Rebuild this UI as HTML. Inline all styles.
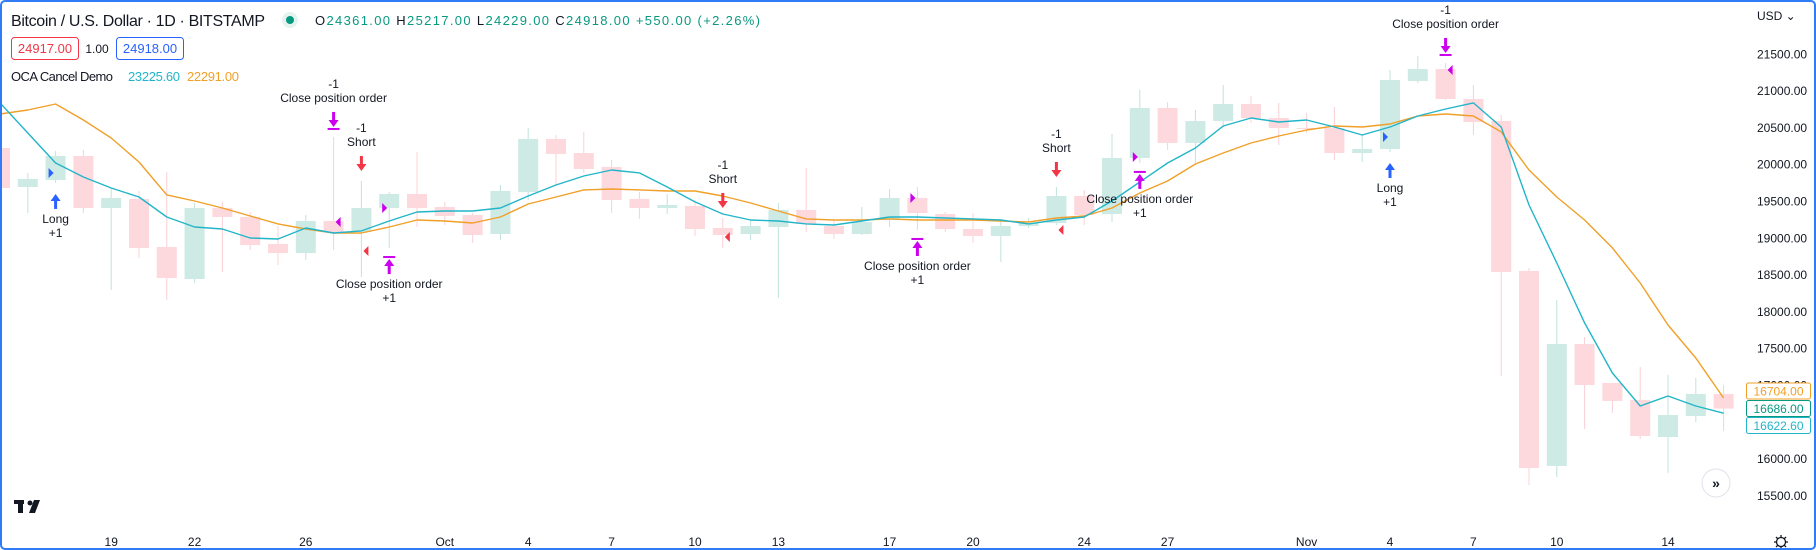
<!DOCTYPE html>
<html><head><meta charset="utf-8"><style>
html,body{margin:0;padding:0;background:#fff;}
#wrap{position:relative;width:1816px;height:550px;overflow:hidden;background:#fff;}
#frame{position:absolute;left:0;top:0;width:1812px;height:546px;border:2px solid #2f7cf6;border-radius:5px;pointer-events:none;}
svg{position:absolute;left:0;top:0;font-family:"Liberation Sans",sans-serif;}
</style></head><body>
<div id="wrap">
<svg id="chart" width="1816" height="550">
  <g id="candles"></g>
  <g id="lines"></g>
  <g id="markers"></g>
  <g id="yaxis"></g>
  <g id="xaxis"></g>
  <g>
    <text x="11" y="26" font-size="16" fill="#131722" textLength="254">Bitcoin / U.S. Dollar · 1D · BITSTAMP</text>
    <circle cx="290" cy="20" r="8" fill="#e3f3ef"/>
    <circle cx="290" cy="20" r="4" fill="#089981"/>
    <text x="315" y="25" font-size="13" fill="#089981" textLength="445"><tspan fill="#131722">O</tspan>24361.00 <tspan fill="#131722">H</tspan>25217.00 <tspan fill="#131722">L</tspan>24229.00 <tspan fill="#131722">C</tspan>24918.00 +550.00 (+2.26%)</text>
    <rect x="11.5" y="37.5" width="67" height="22" rx="3" fill="#fff" stroke="#f23645"/>
    <text x="45" y="53" font-size="13" fill="#f23645" text-anchor="middle">24917.00</text>
    <text x="97" y="53" font-size="12" fill="#131722" text-anchor="middle">1.00</text>
    <rect x="116.5" y="37.5" width="67" height="22" rx="3" fill="#fff" stroke="#2962ff"/>
    <text x="150" y="53" font-size="13" fill="#2962ff" text-anchor="middle">24918.00</text>
    <text x="11" y="81" font-size="13" fill="#131722" textLength="102">OCA Cancel Demo</text>
    <text x="128" y="81" font-size="13" fill="#22b5c9" textLength="52">23225.60</text>
    <text x="187" y="81" font-size="13" fill="#f0a028" textLength="52">22291.00</text>
    <text x="1757" y="20" font-size="12" fill="#131722">USD ⌄</text>
  </g>
  <g>
    <rect x="14" y="500" width="10" height="4" fill="#131722"/>
    <rect x="18" y="500" width="5" height="13" fill="#131722"/>
    <circle cx="30" cy="503" r="2.5" fill="#131722"/>
    <polygon points="34,500 40,500 35,513 29,513" fill="#131722"/>
  </g>
  <g>
    <circle cx="1716" cy="483" r="14" fill="#fff" stroke="#e0e3eb"/>
    <text x="1716" y="488" font-size="14" fill="#131722" text-anchor="middle" font-weight="bold">»</text>
  </g>
  <g stroke="#131722" stroke-width="1.3" fill="none">
    <circle cx="1781" cy="542" r="4.5"/>
    <line x1="1781" y1="535" x2="1781" y2="537.5"/>
    <line x1="1781" y1="546.5" x2="1781" y2="549"/>
    <line x1="1774" y1="542" x2="1776.5" y2="542"/>
    <line x1="1785.5" y1="542" x2="1788" y2="542"/>
    <line x1="1776" y1="537" x2="1777.8" y2="538.8"/>
    <line x1="1784.2" y1="545.2" x2="1786" y2="547"/>
    <line x1="1786" y1="537" x2="1784.2" y2="538.8"/>
    <line x1="1777.8" y1="545.2" x2="1776" y2="547"/>
  </g>
</svg>
<div id="frame"></div>
</div>
<script>
const opens=[20227,19697,19792,20119,19412,19535,18882,18447,19412,19290,18923,18800,19235,19086,19412,19602,19426,19317,19059,19630,20350,20159,19969,19535,19412,19439,19140,19059,19154,19385,19167,19059,19249,19548,19330,19127,19032,19167,19208,19575,19330,20091,20771,20295,20594,20825,20635,20499,20499,20159,20214,21138,21300,20893,20594,18556,15907,17564,17034,16803,16300,16586,16885];
const highs=[20336,19888,20186,20200,19684,19643,19901,19480,19494,19358,19167,19317,20377,19779,19630,20173,19494,19344,19724,20499,20404,20445,20064,19630,19602,19521,19276,19249,19480,19955,19249,19426,19670,19697,19358,19344,19249,19276,19697,19657,20417,21015,20852,20743,21083,20934,20839,20703,20784,20404,21287,21477,21382,21083,20676,18597,18162,17659,17034,17252,17143,17102,17007];
const lows=[19589,19344,19752,19344,18298,18733,18162,18393,18542,18841,18637,18705,18841,18474,18868,19154,19181,18936,18977,19521,19724,19888,19344,19263,19330,19032,18868,18977,18189,19086,18991,19045,19154,19113,19086,18936,18678,19140,19181,19181,19222,20024,20200,20024,20513,20567,20268,20431,20064,20037,20173,21110,20879,20404,17129,15648,15757,16409,16627,16273,15812,16504,16382];
const closes=[19684,19806,20119,19412,19548,18869,18461,19412,19290,18909,18800,19235,19086,19412,19602,19412,19303,19045,19643,20350,20146,19942,19521,19412,19453,19127,19045,19167,19385,19195,19059,19222,19548,19344,19127,19032,19167,19208,19575,19317,20091,20771,20295,20594,20825,20635,20499,20485,20159,20214,21151,21300,20893,20580,18542,15879,17564,17007,16790,16314,16599,16885,16686];
const fastMA=[20839,20431,20023,19833,19684,19561,19290,19154,19127,19004,18991,19140,19072,19100,19235,19358,19371,19371,19412,19575,19724,19847,19928,19888,19697,19494,19330,19249,19235,19195,19181,19235,19290,19290,19276,19263,19249,19195,19249,19290,19507,19765,20023,20227,20526,20635,20580,20608,20512,20404,20512,20662,20757,20839,20512,19453,18665,17850,17170,16722,16858,16722,16623];
const slowMA=[20689,20743,20825,20608,20363,20037,19589,19507,19412,19303,19195,19127,19072,19072,19154,19249,19235,19208,19290,19466,19561,19657,19670,19657,19643,19643,19575,19480,19371,19263,19249,19249,19263,19249,19249,19249,19235,19222,19276,19303,19412,19616,19779,20010,20159,20295,20390,20472,20526,20512,20553,20662,20689,20662,20445,19928,19561,19249,18869,18393,17822,17374,16830];
const xTickIdx=[4,7,11,16,19,22,25,28,32,35,39,42,47,50,53,56,60];
const xTickLabels=['19','22','26','Oct','4','7','10','13','17','20','24','27','Nov','4','7','10','14'];
const yTicks=[21500,21000,20500,20000,19500,19000,18500,18000,17500,17000,16000,15500];
const sigIdx=[2,12,13,14,26,33,38,41,50,52];
const sigKind=['long','closeSell','short','closeBuy','short','closeBuy','short','closeBuy','long','closeSell'];
const fillIdx=[2,12,13,14,26,33,38,41,50,52];
const fillPrice=[19888,19222,18827,19412,19018,19548,19113,20105,20377,21287];
const fillDir=['right','left','left','right','left','right','left','right','right','left'];
const lastLabels=[16704,16686,16622.60];

const NS='http://www.w3.org/2000/svg';
const X0=0, STEP=27.8;
function xOf(i){return X0+i*STEP;}
function yOf(p){return 54.3+(21500-p)*0.0736;}
function mk(tag,attrs,parent){const e=document.createElementNS(NS,tag);for(const k in attrs)e.setAttribute(k,attrs[k]);parent.appendChild(e);return e;}

const gC=document.getElementById('candles');
for(let i=0;i<opens.length;i++){
  const up=closes[i]>=opens[i];
  const x=xOf(i);
  const wick=mk('line',{x1:x,x2:x,y1:yOf(highs[i]),y2:yOf(lows[i]),stroke:up?'#c2e4dd':'#fbd0d6','stroke-width':1},gC);
  
  
  const top=yOf(Math.max(opens[i],closes[i])), bot=yOf(Math.min(opens[i],closes[i]));
  const body=mk('rect',{x:x-10,y:top,width:20,height:Math.max(1,bot-top),fill:up?'#cdeae4':'#fdd8dd'},gC);
  
  
}
const gL=document.getElementById('lines');
function line(vals,color,name){
  const pts=vals.map((v,i)=>xOf(i).toFixed(1)+','+yOf(v).toFixed(1)).join(' ');
  const p=mk('polyline',{points:pts,fill:'none',stroke:color,'stroke-width':1.4,'stroke-linejoin':'round'},gL);
  
  
}
line(slowMA,'#f0a028','slow-ma-line');
line(fastMA,'#22b5c9','fast-ma-line');

const gM=document.getElementById('markers');
function txt(x,y,s,parent){const t=mk('text',{x:x,y:y,'font-size':12,fill:'#131722','text-anchor':'middle'},parent);t.textContent=s;return t;}
function arrow(x,yTop,len,dir,color,bar,parent){
  const g=mk('g',{},parent);
  if(dir==='down'){
    mk('rect',{x:x-1.5,y:yTop,width:3,height:len-6},g);
    mk('polygon',{points:`${x-5},${yTop+len-8} ${x+5},${yTop+len-8} ${x},${yTop+len-1}`},g);
    if(bar) mk('rect',{x:x-6,y:yTop+len,width:12,height:2},g);
  } else {
    if(bar) mk('rect',{x:x-6,y:yTop-2,width:12,height:2},g);
    mk('polygon',{points:`${x-5},${yTop+8} ${x+5},${yTop+8} ${x},${yTop+1}`},g);
    mk('rect',{x:x-1.5,y:yTop+6,width:3,height:len-6},g);
  }
  g.setAttribute('fill',color);
  return g;
}
for(let k=0;k<sigIdx.length;k++){
  const i=sigIdx[k], kind=sigKind[k], x=xOf(i);
  const g=mk('g',{},gM);
  
  
  if(kind==='long'||kind==='closeBuy'){
    const yT=yOf(lows[i])+10;
    arrow(x,yT,16,'up',kind==='long'?'#2962ff':'#cc00ee',kind==='closeBuy',g);
    txt(x,yT+30,kind==='long'?'Long':'Close position order',g);
    txt(x,yT+44,'+1',g);
  } else {
    const yB=yOf(highs[i])-9;
    arrow(x,yB-16,16,'down',kind==='short'?'#f23645':'#cc00ee',kind==='closeSell',g);
    txt(x,yB-26,kind==='short'?'Short':'Close position order',g);
    txt(x,yB-40,'-1',g);
  }
}
for(let k=0;k<fillIdx.length;k++){
  const x=xOf(fillIdx[k]), y=yOf(fillPrice[k]);
  const kind=sigKind[k];
  const col=kind==='long'?'#2962ff':kind==='short'?'#f23645':'#cc00ee';
  const pts=fillDir[k]==='right'?`${x-7},${y-5} ${x-7},${y+5} ${x-2},${y}`:`${x+7},${y-5} ${x+7},${y+5} ${x+2},${y}`;
  const t=mk('polygon',{points:pts,fill:col},gM);
  
  
}
const gY=document.getElementById('yaxis');
yTicks.forEach(v=>{
  const t=mk('text',{x:1757,y:yOf(v)+4,'font-size':12,fill:'#131722'},gY);
  t.textContent=v.toFixed(2);
  
  
});
const boxCols=['#f0a028','#089981','#22b5c9'];
const boxY=[391,408.5,425.5];
lastLabels.forEach((v,k)=>{
  const r=mk('rect',{x:1746.5,y:boxY[k]-8,width:64,height:16,rx:2,fill:'#fff',stroke:boxCols[k]},gY);
  
  
  const t=mk('text',{x:1778.5,y:boxY[k]+4.5,'font-size':12,fill:boxCols[k],'text-anchor':'middle'},gY);
  t.textContent=v.toFixed(2);
  
  
});
const gX=document.getElementById('xaxis');
xTickIdx.forEach((i,k)=>{
  const t=mk('text',{x:xOf(i),y:546,'font-size':12,fill:'#131722','text-anchor':'middle'},gX);
  t.textContent=xTickLabels[k];
  
  
});
</script>
</body></html>
